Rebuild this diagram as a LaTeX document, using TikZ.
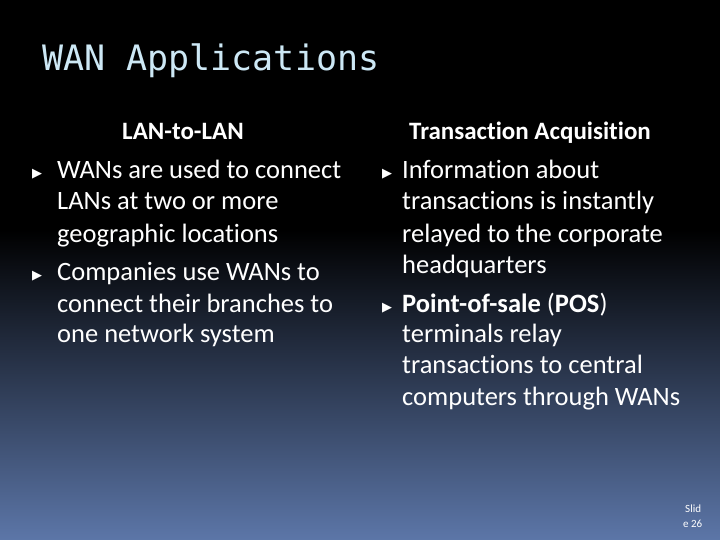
\documentclass[tikz,border=0pt]{standalone}
\usepackage{fontspec}
\setmainfont{Carlito}[Ligatures=NoCommon]
\newfontfamily\titlefont{DejaVu Sans Mono}
\newfontfamily\symfont{DejaVu Sans}
\begin{document}
\begin{tikzpicture}[x=1pt,y=-1pt,
  body/.style={anchor=base west,inner sep=0pt,text=white,font=\fontsize{26.5}{30}\selectfont},
  head/.style={anchor=base,inner sep=0pt,text=white,font=\bfseries\fontsize{25}{28}\selectfont},
  bul/.style={anchor=base,inner sep=0pt,text=white,font=\symfont\fontsize{13}{15}\selectfont}]
\useasboundingbox (0,0) rectangle (720,540);
\fill[black] (0,0) rectangle (720,540);
\shade[top color=black,bottom color={rgb,255:red,92;green,118;blue,168}] (0,230) rectangle (720,540);
\node[anchor=base west,inner sep=0pt,text={rgb,255:red,205;green,232;blue,245},font=\titlefont\fontsize{35}{38}\selectfont] (title) at (42,71) {WAN Applications};
\node[head] (hl) at (183,140) {LAN-to-LAN};
\node[head] (hr) at (530,140) {Transaction Acquisition};
\node[bul] (b1) at (37,178) {▶};
\node[bul] (b2) at (37,279) {▶};
\node[bul] (b3) at (387,178) {▶};
\node[bul] (b4) at (387,311) {▶};
\node[body] (l1) at (57,179) {WANs are used to connect};
\node[body] (l2) at (57,210) {LANs at two or more};
\node[body] (l3) at (57,242) {geographic locations};
\node[body] (l4) at (57,280) {Companies use WANs to};
\node[body] (l5) at (57,312) {connect their branches to};
\node[body] (l6) at (57,342) {one network system};
\node[body] (r1) at (402,179) {Information about};
\node[body] (r2) at (402,210) {transactions is instantly};
\node[body] (r3) at (402,242) {relayed to the corporate};
\node[body] (r4) at (402,273) {headquarters};
\node[body] (r5) at (402,312) {\textbf{Point-of-sale} (\textbf{POS})};
\node[body] (r6) at (402,342) {terminals relay};
\node[body] (r7) at (402,373) {transactions to central};
\node[body] (r8) at (402,405) {computers through WANs};
\node[anchor=base west,inner sep=0pt,text=white,font=\fontsize{11}{13}\selectfont] (s1) at (685,512) {Slid};
\node[anchor=base west,inner sep=0pt,text=white,font=\fontsize{11}{13}\selectfont] (s2) at (683,527) {e 26};
\end{tikzpicture}
\end{document}
